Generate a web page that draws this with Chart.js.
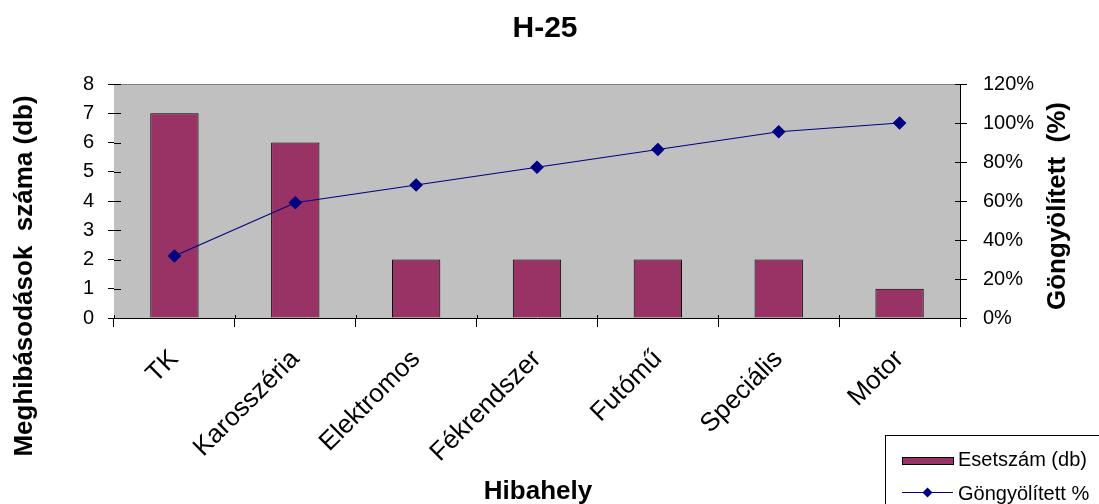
<!DOCTYPE html>
<html>
<head>
<meta charset="utf-8">
<title>H-25</title>
<script src="https://cdn.jsdelivr.net/npm/chart.js@4/dist/chart.umd.min.js"></script>
<style>
  html, body { margin: 0; padding: 0; background: #ffffff; }
  #wrap { width: 1099px; height: 504px; position: relative; }
</style>
</head>
<body>
<div id="wrap"><canvas id="c" width="1099" height="504"></canvas></div>
<script>
// Hibahelyek és meghibásodások
const categories = ['TK', 'Karosszéria', 'Elektromos', 'Fékrendszer', 'Futómű', 'Speciális', 'Motor'];
const esetszam = [7, 6, 2, 2, 2, 2, 1];
const gongyolitett = [0.318, 0.591, 0.682, 0.773, 0.864, 0.955, 1.0];
const leftTicks = [0, 1, 2, 3, 4, 5, 6, 7, 8];
const rightTicks = [0, 0.2, 0.4, 0.6, 0.8, 1.0, 1.2];

const FONT = '"Liberation Sans", Arial, sans-serif';
const BAR_COLOR = '#993366';
const LINE_COLOR = '#000080';

// plot background, inner tick halves, titles and the framed legend
const decor = {
  id: 'decor',
  beforeDatasetsDraw(chart) {
    const { ctx, chartArea: a } = chart;
    ctx.save();
    ctx.fillStyle = '#c0c0c0';
    ctx.fillRect(a.left, a.top, a.right - a.left, a.bottom - a.top);
    ctx.strokeStyle = '#808080';
    ctx.lineWidth = 1;
    ctx.beginPath();
    ctx.moveTo(a.left, a.top + 0.5);
    ctx.lineTo(a.right, a.top + 0.5);
    ctx.stroke();

    // tick marks crossing into the plot
    ctx.strokeStyle = '#000';
    ctx.beginPath();
    const yL = chart.scales.y, yR = chart.scales.yR;
    yL.ticks.forEach(t => {
      const py = Math.round(yL.getPixelForValue(t.value)) + 0.5;
      ctx.moveTo(a.left, py); ctx.lineTo(a.left + 7, py);
    });
    yR.ticks.forEach(t => {
      const py = Math.round(yR.getPixelForValue(t.value)) + 0.5;
      ctx.moveTo(a.right - 5, py); ctx.lineTo(a.right, py);
    });
    for (let i = 0; i <= categories.length; i++) {
      const px = Math.round(a.left + (a.right - a.left) * i / categories.length) + 0.5;
      ctx.moveTo(px, a.bottom - 3); ctx.lineTo(px, a.bottom);
    }
    ctx.stroke();
    ctx.restore();
  },
  afterDraw(chart) {
    const { ctx } = chart;
    ctx.save();
    ctx.fillStyle = '#000';
    ctx.textAlign = 'center';
    ctx.textBaseline = 'alphabetic';
    ctx.font = 'bold 30px ' + FONT;
    ctx.fillText('H-25', 545, 37);
    ctx.font = 'bold 26px ' + FONT;
    ctx.fillText('Hibahely', 538, 499);

    ctx.save();
    ctx.translate(32, 276);
    ctx.rotate(-Math.PI / 2);
    ctx.fillText('Meghibásodások  száma (db)', 0, 0);
    ctx.restore();

    ctx.save();
    ctx.translate(1065, 206);
    ctx.rotate(-Math.PI / 2);
    ctx.fillText('Göngyölített  (%)', 0, 0);
    ctx.restore();

    // legend
    const barDs = chart.data.datasets.find(d => d.type === 'bar');
    const lineDs = chart.data.datasets.find(d => d.type === 'line');
    const lx = 885.5, ly = 435.5;
    ctx.fillStyle = '#fff';
    ctx.fillRect(lx, ly, 240, 80);
    ctx.strokeStyle = '#000';
    ctx.lineWidth = 1;
    ctx.strokeRect(lx, ly, 240, 80);

    ctx.fillStyle = barDs.backgroundColor;
    ctx.fillRect(902, 457, 51, 8);
    ctx.strokeStyle = '#000';
    ctx.strokeRect(902.5, 457.5, 51, 7);

    ctx.strokeStyle = lineDs.borderColor;
    ctx.lineWidth = 1.2;
    ctx.beginPath();
    ctx.moveTo(902, 492.5);
    ctx.lineTo(953, 492.5);
    ctx.stroke();
    ctx.fillStyle = lineDs.pointBackgroundColor;
    ctx.beginPath();
    ctx.moveTo(927.5, 487.5);
    ctx.lineTo(932.5, 492.5);
    ctx.lineTo(927.5, 497.5);
    ctx.lineTo(922.5, 492.5);
    ctx.closePath();
    ctx.fill();

    ctx.fillStyle = '#000';
    ctx.textAlign = 'left';
    ctx.textBaseline = 'middle';
    ctx.font = '20px ' + FONT;
    ctx.fillText(barDs.label, 958, 460);
    ctx.fillText(lineDs.label, 958, 494);
    ctx.restore();
  }
};

new Chart(document.getElementById('c'), {
  data: {
    labels: categories,
    datasets: [
      {
        type: 'line',
        label: 'Göngyölített %',
        data: gongyolitett,
        yAxisID: 'yR',
        borderColor: LINE_COLOR,
        borderWidth: 1.2,
        pointStyle: 'rectRot',
        pointRadius: 6,
        pointBackgroundColor: LINE_COLOR,
        pointBorderColor: LINE_COLOR,
        tension: 0,
        order: 0
      },
      {
        type: 'bar',
        label: 'Esetszám (db)',
        data: esetszam,
        yAxisID: 'y',
        backgroundColor: BAR_COLOR,
        borderColor: '#000',
        borderWidth: 1,
        categoryPercentage: 1,
        barPercentage: 0.4,
        order: 1
      }
    ]
  },
  options: {
    responsive: false,
    animation: false,
    devicePixelRatio: 1,
    layout: { padding: { top: 84, left: 0, right: 0, bottom: 0 } },
    plugins: {
      legend: { display: false },
      title: { display: false },
      tooltip: { enabled: false }
    },
    scales: {
      x: {
        type: 'category',
        offset: true,
        grid: { offset: true, drawOnChartArea: false, color: '#000', tickLength: 9, tickWidth: 1 },
        border: { color: '#000', width: 1 },
        ticks: {
          color: '#000',
          font: { family: FONT, size: 26 },
          minRotation: 45,
          maxRotation: 45,
          autoSkip: false,
          padding: 17
        },
        afterFit(scale) { scale.height = 186; }
      },
      y: {
        position: 'left',
        min: 0,
        max: 8,
        afterBuildTicks(scale) { scale.ticks = leftTicks.map(v => ({ value: v })); },
        grid: { drawOnChartArea: false, color: '#000', tickLength: 6 },
        border: { color: '#000', width: 1 },
        ticks: { color: '#000', font: { family: FONT, size: 20 }, padding: 14 },
        afterFit(scale) { scale.width = 114; }
      },
      yR: {
        position: 'right',
        min: 0,
        max: 1.2,
        afterBuildTicks(scale) { scale.ticks = rightTicks.map(v => ({ value: v })); },
        grid: { drawOnChartArea: false, color: '#000', tickLength: 7 },
        border: { color: '#000', width: 1 },
        ticks: {
          color: '#000',
          font: { family: FONT, size: 20 },
          padding: 16,
          callback: v => Math.round(v * 100) + '%'
        },
        afterFit(scale) { scale.width = 139; }
      }
    }
  },
  plugins: [decor]
});
</script>
</body>
</html>
